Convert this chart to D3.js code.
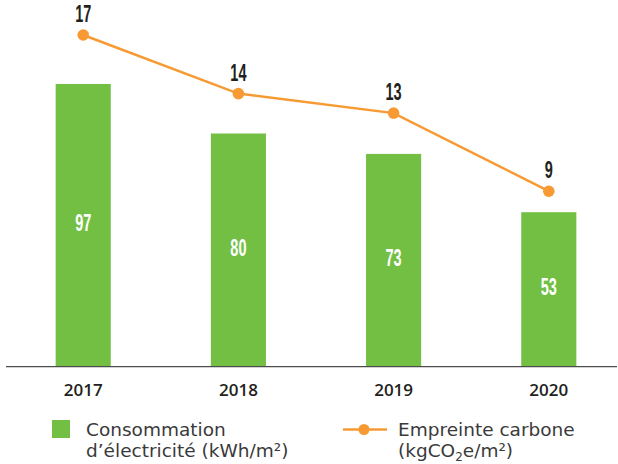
<!DOCTYPE html>
<html>
<head>
<meta charset="utf-8">
<script src="https://cdn.jsdelivr.net/npm/d3@7"></script>
<style>
  html, body { margin: 0; padding: 0; background: #fff; }
  svg { display: block; }
</style>
</head>
<body>
<svg id="chart" width="618" height="464"></svg>
<script>
// Years on the x axis
const years = ["2017", "2018", "2019", "2020"];
// Electricity consumption (kWh/m²) – bars
const electricity = [97, 80, 73, 53];
// Carbon footprint (kgCO2e/m²) – line
const carbon = [17, 14, 13, 9];
// Legend labels
const legendBars = ["Consommation", "d’électricité (kWh/m²)"];
const legendLine = ["Empreinte carbone", "(kgCO", "2", "e/m²)"];

const GREEN = "#72bf44";
const ORANGE = "#f79a33";
const DARK = "#231f20";
const numFont = "'Liberation Sans', Arial, sans-serif";
const CONDENSE = 0.63;   // horizontal squeeze for the condensed value labels

const svg = d3.select("#chart");

const x = d3.scaleBand()
  .domain(years)
  .range([6, 626])
  .paddingInner(0.645)
  .paddingOuter(0.32);

const yBar = d3.scaleLinear().domain([0, 100]).range([366.7, 75.2]);
const yLine = d3.scaleLinear().domain([0, 17]).range([367, 35]);

// Condensed numeric label helper
function valueLabel(sel, fx, fy, fill) {
  sel.attr("transform", (d, i) => `translate(${fx(d, i)},${fy(d, i)}) scale(${CONDENSE},1)`)
    .attr("text-anchor", "middle")
    .attr("font-family", numFont)
    .attr("font-weight", "bold")
    .attr("font-size", 23)
    .attr("fill", fill)
    .text(d => d);
}

// Bars
svg.append("g").selectAll("rect")
  .data(electricity)
  .join("rect")
  .attr("x", (d, i) => x(years[i]))
  .attr("y", d => yBar(d))
  .attr("width", x.bandwidth())
  .attr("height", d => yBar(0) - yBar(d))
  .attr("fill", GREEN);

// Bar value labels
svg.append("g").selectAll("text")
  .data(electricity)
  .join("text")
  .call(valueLabel,
    (d, i) => x(years[i]) + x.bandwidth() / 2,
    d => (yBar(d) + yBar(0)) / 2 + 6,
    "#ffffff");

// Baseline axis
const axisG = svg.append("g").attr("transform", `translate(0,${yBar(0)})`);
axisG.call(d3.axisBottom(x).tickSize(0).tickPadding(0));
axisG.select(".domain").remove();
axisG.append("line")
  .attr("x1", 6).attr("x2", 617)
  .attr("y1", 0).attr("y2", 0)
  .attr("stroke", "#4d4d4d").attr("stroke-width", 1.3);
axisG.selectAll(".tick text")
  .attr("y", 29)
  .attr("dy", 0)
  .attr("font-family", "'Open Sans', sans-serif")
  .attr("font-weight", 600)
  .attr("font-size", 17)
  .attr("fill", DARK);

// Carbon line
const cx = (d, i) => x(years[i]) + x.bandwidth() / 2;
const line = d3.line().x(cx).y(d => yLine(d));
svg.append("path")
  .datum(carbon)
  .attr("d", line)
  .attr("fill", "none")
  .attr("stroke", ORANGE)
  .attr("stroke-width", 2.5);

svg.append("g").selectAll("circle")
  .data(carbon)
  .join("circle")
  .attr("cx", cx)
  .attr("cy", d => yLine(d))
  .attr("r", 5.8)
  .attr("fill", ORANGE);

svg.append("g").selectAll("text")
  .data(carbon)
  .join("text")
  .call(valueLabel, cx, d => yLine(d) - 13, DARK);

// Legend
const legFont = "'DejaVu Sans', sans-serif";
const leg = svg.append("g")
  .attr("font-family", legFont)
  .attr("font-size", 18.5)
  .attr("fill", "#3a3a3a");

leg.append("rect")
  .attr("x", 52).attr("y", 420)
  .attr("width", 18).attr("height", 18)
  .attr("fill", GREEN);
leg.append("text").attr("x", 86).attr("y", 436).text(legendBars[0]);
leg.append("text").attr("x", 86).attr("y", 456.5).text(legendBars[1]);

leg.append("line")
  .attr("x1", 343).attr("x2", 387)
  .attr("y1", 429.5).attr("y2", 429.5)
  .attr("stroke", ORANGE).attr("stroke-width", 2.5);
leg.append("circle")
  .attr("cx", 364).attr("cy", 429.5).attr("r", 5.5)
  .attr("fill", ORANGE);
leg.append("text").attr("x", 398).attr("y", 436).text(legendLine[0]);
const t2 = leg.append("text").attr("x", 398).attr("y", 456.5);
t2.append("tspan").text(legendLine[1]);
t2.append("tspan").attr("dy", 4).attr("font-size", 12).text(legendLine[2]);
t2.append("tspan").attr("dy", -4).text(legendLine[3]);
</script>
</body>
</html>
